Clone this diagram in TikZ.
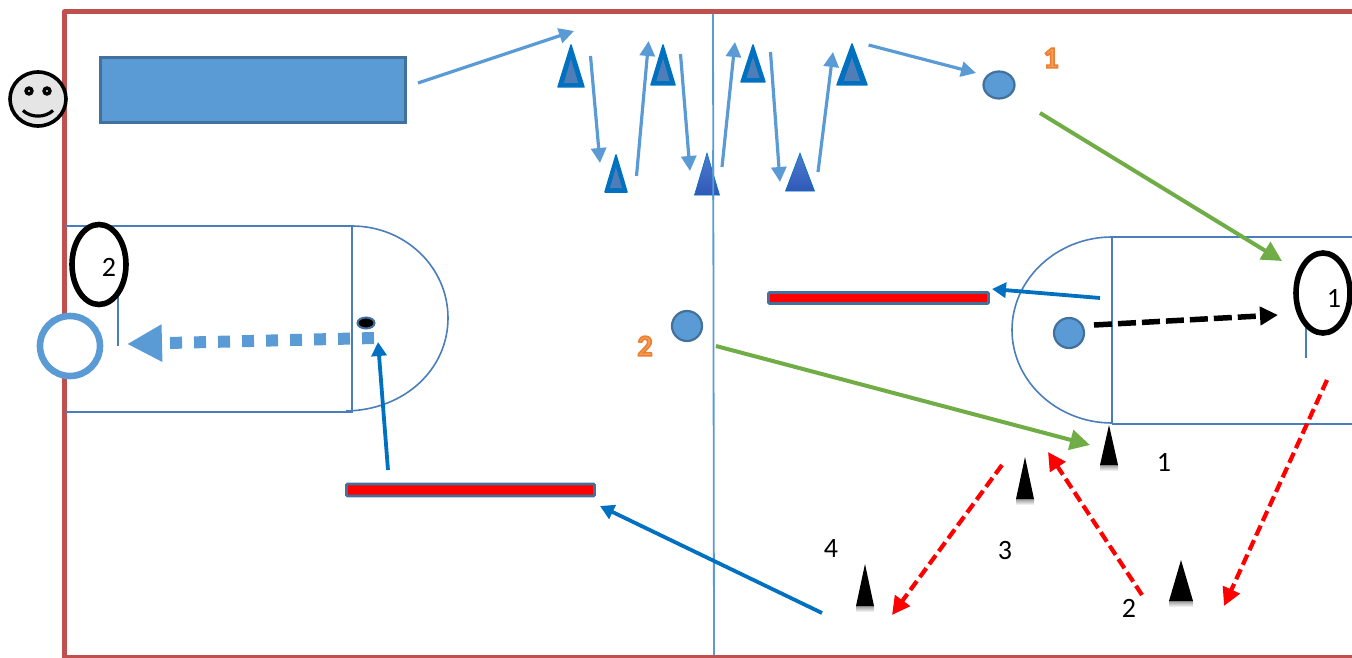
\documentclass[tikz,border=0pt]{standalone}
\usepackage{fontspec}
\setmainfont{Carlito}
\usetikzlibrary{arrows.meta,shapes.geometric}
\definecolor{frame}{HTML}{C0504D}
\definecolor{lblue}{HTML}{5B9BD5}
\definecolor{eblue}{HTML}{41719C}
\definecolor{court}{HTML}{4A7EBB}
\definecolor{dblue}{HTML}{0070C0}
\definecolor{cgreen}{HTML}{70AD47}
\definecolor{corange}{HTML}{ED7D31}
\newcommand{\outlined}[1]{\special{pdf:code 0.93 0.49 0.19 RG 0.95 0.62 0.35 rg 1.6 w 2 Tr}#1\special{pdf:code 0 Tr 1 w}}
\tikzset{
  lightarrow/.style={draw=lblue,line width=3.2pt,-{Triangle[length=15pt,width=15pt]}},
  darkarrow/.style={draw=dblue,line width=3.8pt,-{Triangle[length=14pt,width=15pt]}},
  greenarrow/.style={draw=cgreen,line width=4pt,-{Triangle[length=20pt,width=20pt]}},
  redarrow/.style={draw=red,line width=4.2pt,dash pattern=on 11pt off 5pt,-{Triangle[length=18pt,width=18pt]}},
  courtline/.style={draw=court,line width=1.6pt},
  ball/.style={circle,draw=eblue,fill=lblue,line width=2.2pt,minimum size=30pt,inner sep=0pt},
  ring/.style={ellipse,draw=black,line width=5.6pt,minimum width=54pt,minimum height=80pt,inner sep=0pt},
  num/.style={font=\fontsize{28}{28}\selectfont,inner sep=0pt,text=black},
  onum/.style={font=\fontsize{30}{30}\selectfont\bfseries,inner sep=0pt,text=corange},
  bar/.style={draw=eblue,fill=red,line width=2.6pt,rounded corners=1pt,inner sep=0pt}
}
% x, tip y, half width, base y
\newcommand{\bluecone}[4]{%
  \fill[dblue,draw=dblue,line width=1.5pt,line join=round] (#1,#2)--(#1+#3,#4)--(#1-#3,#4)--cycle;
  \fill[fill={rgb,255:red,78;green,125;blue,184}] (#1,#2+0.33*#4-0.33*#2)--(#1+0.55*#3,#4-4)--(#1-0.55*#3,#4-4)--cycle;}
\newcommand{\gradcone}[4]{%
  \shade[top color={rgb,255:red,76;green,125;blue,205},bottom color={rgb,255:red,48;green,88;blue,184},draw=dblue,line width=0.6pt] (#1,#2)--(#1+#3,#4)--(#1-#3,#4)--cycle;}
\newcommand{\blackcone}[4]{%
  \shade[top color=black!40,bottom color=white] (#1-#3,#4) rectangle (#1+#3,#4+6);
  \fill[black] (#1,#2)--(#1+#3,#4)--(#1-#3,#4)--cycle;}
\begin{document}
\begin{tikzpicture}[x=1pt,y=-1pt]
\useasboundingbox (0,0) rectangle (1352,658);
% outer frame
\draw[frame,line width=5pt,line join=round] (1352,12)--(64,12)--(64,657)--(1352,657);
% centre line
\draw[draw=lblue,line width=1.8pt] (713,14)--(714,655);
% smiley
\node[ellipse,draw=black,fill=black!10,line width=3.6pt,minimum width=56pt,minimum height=54pt,inner sep=0pt] (face) at (38,99) {};
\fill[black] (29,91) circle (4.8);
\fill[black] (47,91) circle (4.8);
\fill[black!10] (29,91) circle (1.2);
\fill[black!10] (47,91) circle (1.2);
\draw[black,line width=3.2pt] (23,110.5) .. controls (31,118) and (45,118) .. (53,110.5);
% top rectangle
\node[draw=eblue,fill=lblue,line width=2.4pt,minimum width=305pt,minimum height=65pt,inner sep=0pt] (box) at (253,90) {};
% left court
\draw[courtline] (65,226)--(352,226);
\draw[courtline] (65,412)--(353,412);
\draw[courtline] (352,226)--(352,412);
\draw[courtline] (352,226) .. controls (405,226) and (448,267) .. (448,318) .. controls (448,369) and (405,410) .. (346,411);
\draw[courtline] (118,297)--(118,346);
% right court
\draw[courtline] (1112,237)--(1352,237);
\draw[courtline] (1112,424)--(1352,424);
\draw[courtline] (1112,237)--(1112,423);
\draw[courtline] (1124,237) -- (1112,237) .. controls (1057,237) and (1012,279) .. (1012,330) .. controls (1012,381) and (1057,423) .. (1112,423);
\draw[courtline] (1306,326)--(1306,358);
% goal rings
\node[ring] (ringL) at (99,264.5) {};
\node[ring] (ringR) at (1323,293) {};
\node[num] (n2r) at (109,267) {2};
\node[num] (n1r) at (1334,298) {1};
\node[circle,draw=lblue,fill=white,line width=6.6pt,minimum size=60pt,inner sep=0pt] (goal) at (70,346) {};
% balls and spots
\node[ball] (ballA) at (1069,333) {};
\node[ball] (ballB) at (687,326) {};
\node[ellipse,draw=eblue,fill=lblue,line width=2.2pt,minimum width=31pt,minimum height=27pt,inner sep=0pt] (ballC) at (999,85) {};
\node[ellipse,draw=eblue,fill=black,line width=2pt,minimum width=17pt,minimum height=11pt,inner sep=0pt] (spot) at (366,323) {};
% bars
\node[bar,minimum width=220pt,minimum height=11pt] (barR) at (878.5,298) {};
\node[bar,minimum width=248pt,minimum height=12pt] (barL) at (470.5,490) {};
% cones
\bluecone{571}{45}{13}{87}
\bluecone{663}{45}{12}{85}
\bluecone{753}{45}{12}{82}
\bluecone{852}{44}{15}{85}
\bluecone{616}{155}{11}{192}
\gradcone{707}{153}{12.5}{195}
\gradcone{800}{153}{14.5}{191}
\draw[draw=lblue,line width=1.8pt] (713,150)--(713.3,200);
\blackcone{1109}{425}{9}{465}
\blackcone{1025}{457}{9}{499}
\blackcone{865}{564}{9}{606}
\blackcone{1181}{560}{12}{601}
% labels
\node[onum] (o1) at (1051,58) {\outlined{1}};
\node[onum] (o2) at (645,346) {\outlined{2}};
\node[num] (t1) at (1164,462) {1};
\node[num] (t2) at (1129,608) {2};
\node[num] (t3) at (1005,551) {3};
\node[num] (t4) at (831,549) {4};
% connector ends
\coordinate (a0) at (418,83);  \coordinate (a1) at (574,31);
\coordinate (b0) at (590.5,56);\coordinate (b1) at (600,163);
\coordinate (c0) at (636.5,176);\coordinate (c1) at (648.6,41);
\coordinate (d0) at (680.5,54);\coordinate (d1) at (690,171);
\coordinate (e0) at (722,167); \coordinate (e1) at (735,42);
\coordinate (f0) at (770.5,52);\coordinate (f1) at (780,182);
\coordinate (g0) at (818,172); \coordinate (g1) at (833,52);
\coordinate (h0) at (868.6,45);\coordinate (h1) at (976,73);
\coordinate (g2a) at (1040,113);\coordinate (g2b) at (1282,261);
\coordinate (g3a) at (716,346); \coordinate (g3b) at (1090,445);
\coordinate (r1a) at (1327,380);\coordinate (r1b) at (1224,606);
\coordinate (r2a) at (1142,595);\coordinate (r2b) at (1048,452);
\coordinate (r3a) at (1002,465);\coordinate (r3b) at (892,615);
\coordinate (d1a) at (1100,298);\coordinate (d1b) at (992,289);
\coordinate (d2a) at (822,613); \coordinate (d2b) at (600,506);
\coordinate (d3a) at (388,470); \coordinate (d3b) at (378,342);
\coordinate (k0) at (1094,325); \coordinate (k1) at (1278,315);
\coordinate (p0) at (374,338);  \coordinate (p1) at (127,344);
% connectors
\draw[lightarrow] (a0)--(a1);
\draw[lightarrow] (b0)--(b1);
\draw[lightarrow] (c0)--(c1);
\draw[lightarrow] (d0)--(d1);
\draw[lightarrow] (e0)--(e1);
\draw[lightarrow] (f0)--(f1);
\draw[lightarrow] (g0)--(g1);
\draw[lightarrow] (h0)--(h1);
\draw[greenarrow] (g2a)--(g2b);
\draw[greenarrow] (g3a)--(g3b);
\draw[redarrow] (r1a)--(r1b);
\draw[redarrow] (r2a)--(r2b);
\draw[redarrow] (r3a)--(r3b);
\draw[darkarrow] (d1a)--(d1b);
\draw[darkarrow] (d2a)--(d2b);
\draw[darkarrow] (d3a)--(d3b);
\draw[draw=black,line width=5.5pt,dash pattern=on 18pt off 6pt,-{Triangle[length=18pt,width=18pt]}] (k0)--(k1);
\draw[draw=lblue,line width=12pt,dash pattern=on 12pt off 12pt,-{Triangle[length=35pt,width=35pt]}] (p0)--(p1);
\end{tikzpicture}
\end{document}
